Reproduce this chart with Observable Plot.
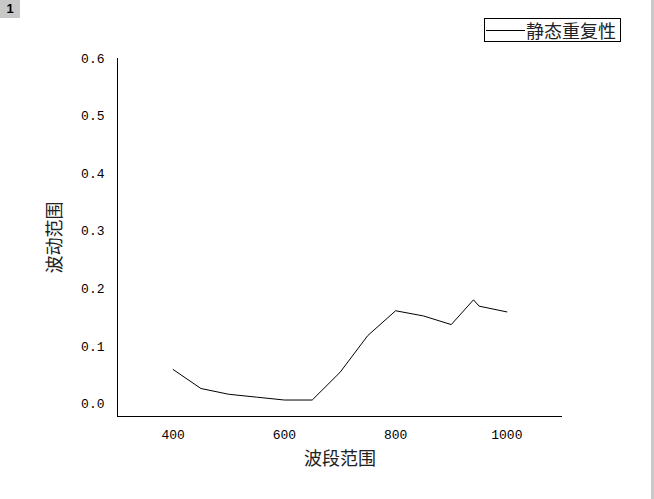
<!DOCTYPE html>
<html>
<head>
<meta charset="utf-8">
<script src="https://cdn.jsdelivr.net/npm/d3@7"></script>
<script src="https://cdn.jsdelivr.net/npm/@observablehq/plot@0.6"></script>
<style>
  html, body { margin: 0; padding: 0; background: #fff; }
  #wrap { position: relative; width: 654px; height: 499px; overflow: hidden; }
  #badge { position: absolute; left: 0; top: 0; width: 20px; height: 18px; background: #c8c8c8;
           font: bold 13px "Liberation Sans", sans-serif; color: #000; text-align: center; line-height: 18px; }
  #edge { position: absolute; left: 651px; top: 0; width: 3px; height: 499px; background: #c8c8c8; }
  #legend { position: absolute; left: 484px; top: 18px; width: 135px; height: 22px; border: 1px solid #000;
            background: #fff; display: flex; align-items: center; }
  #legend .sw { width: 39px; height: 0; border-top: 1px solid #000; margin-left: 1px; }
  #legend .lb { font: 18px "Noto Sans CJK SC", sans-serif; color: #222; line-height: 22px; margin-left: 1px; }
  g[aria-label="y-axis label"] text, g[aria-label="x-axis label"] text { font-size: 18px; font-family: "Noto Sans CJK SC", sans-serif; fill: #222; }
</style>
</head>
<body>
<div id="wrap">
  <div id="chart"></div>
  <div id="badge">1</div>
  <div id="edge"></div>
  <div id="legend"><div class="sw"></div><div class="lb">静态重复性</div></div>
</div>
<script>
const seriesName = "静态重复性";
const xTitle = "波段范围";
const yTitle = "波动范围";
const wavelengths = [400, 450, 500, 550, 600, 650, 700, 750, 800, 850, 900, 940, 950, 1000];
const fluctuation = [0.060, 0.027, 0.017, 0.012, 0.007, 0.007, 0.055, 0.119, 0.162, 0.153, 0.138, 0.181, 0.170, 0.160];
const xTicks = [400, 600, 800, 1000];
const yTicks = [0, 0.1, 0.2, 0.3, 0.4, 0.5, 0.6];
const xDomain = [300, 1100];
const yDomain = [-0.0216, 0.6];

const data = wavelengths.map((w, i) => ({w, v: fluctuation[i]}));

const chart = Plot.plot({
  width: 654,
  height: 499,
  marginLeft: 117,
  marginRight: 92,
  marginTop: 58,
  marginBottom: 83,
  style: { fontFamily: "Liberation Mono, monospace", fontSize: "13px", color: "#000", background: "transparent" },
  x: { domain: xDomain },
  y: { domain: yDomain },
  marks: [
    Plot.axisX({ ticks: xTicks, tickSize: 0, tickPadding: 13, tickFormat: d3.format("d"),
                 label: xTitle, labelArrow: "none", labelAnchor: "center", labelOffset: 48 }),
    Plot.axisY({ ticks: yTicks, tickSize: 0, tickPadding: 13, tickFormat: d3.format(".1f"),
                 label: yTitle, labelArrow: "none", labelAnchor: "center", labelOffset: 69 }),
    Plot.ruleX([xDomain[0]], { stroke: "#000", strokeWidth: 1 }),
    Plot.ruleY([yDomain[0]], { stroke: "#000", strokeWidth: 1 }),
    Plot.line(data, { x: "w", y: "v", stroke: "#000", strokeWidth: 1 })
  ]
});
document.getElementById("chart").appendChild(chart);
</script>
</body>
</html>
